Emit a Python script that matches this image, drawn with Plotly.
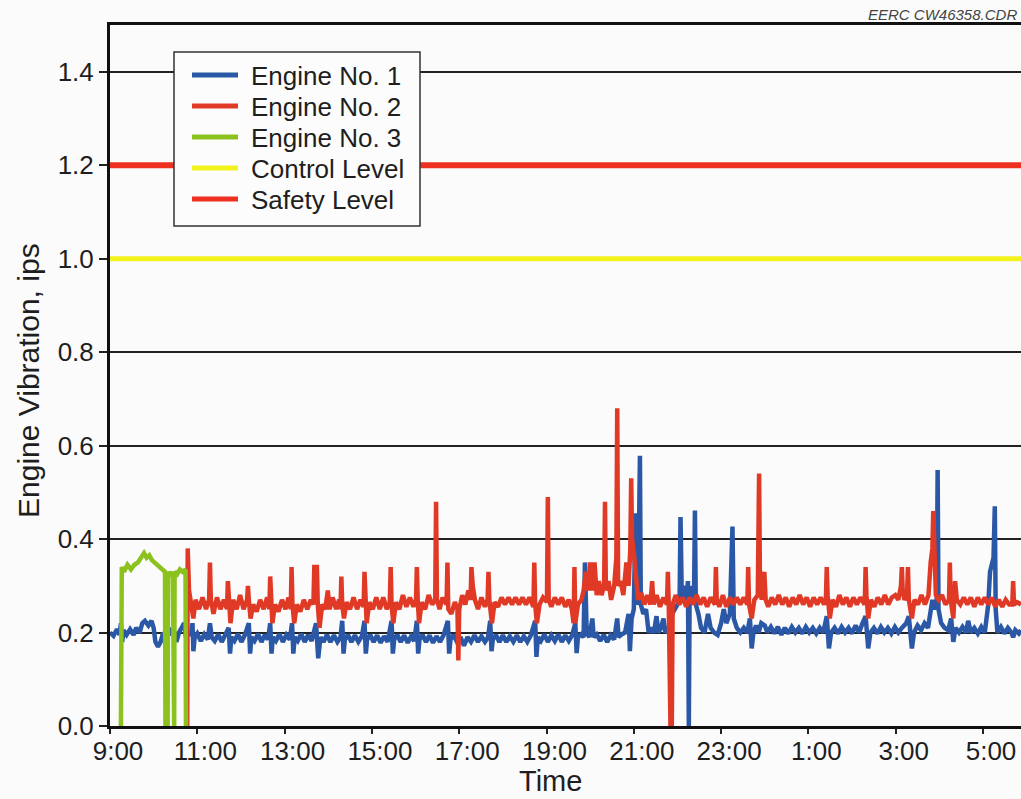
import plotly.graph_objects as go

# ---------------- data (time in hours after 9:00) ----------------
tick_hours = [0, 2, 4, 6, 8, 10, 12, 14, 16, 18, 20]
tick_labels = ["9:00", "11:00", "13:00", "15:00", "17:00", "19:00", "21:00",
               "23:00", "1:00", "3:00", "5:00"]
y_ticks = [0.0, 0.2, 0.4, 0.6, 0.8, 1.0, 1.2, 1.4]
y_tick_labels = ["0.0", "0.2", "0.4", "0.6", "0.8", "1.0", "1.2", "1.4"]

x_end = 20.87
control_level = 1.0
safety_level = 1.2

engine3_points = [
    (0.25, 0.00), (0.27, 0.34), (0.32, 0.33), (0.40, 0.345), (0.48, 0.335), (0.56, 0.345),
    (0.64, 0.35), (0.72, 0.36), (0.78, 0.37), (0.84, 0.36), (0.90, 0.365), (0.96, 0.355),
    (1.02, 0.35), (1.08, 0.345), (1.14, 0.34), (1.20, 0.335), (1.26, 0.33), (1.27, 0.00),
    (1.32, 0.00), (1.33, 0.33), (1.38, 0.32), (1.44, 0.33), (1.45, 0.00), (1.47, 0.00),
    (1.48, 0.33), (1.54, 0.325), (1.60, 0.335), (1.66, 0.33), (1.73, 0.335), (1.74, 0.00),
]

engine2_points = [
    (1.77, 0.00), (1.78, 0.38), (1.81, 0.29), (1.86, 0.25), (1.91, 0.23), (1.96, 0.27),
    (2.04, 0.25), (2.12, 0.275), (2.20, 0.25), (2.27, 0.27), (2.29, 0.35), (2.31, 0.27), (2.37, 0.24),
    (2.45, 0.275), (2.53, 0.25), (2.61, 0.27), (2.68, 0.25), (2.70, 0.31), (2.72, 0.26), (2.76, 0.22),
    (2.82, 0.27), (2.90, 0.25), (2.98, 0.28), (3.06, 0.25), (3.14, 0.27), (3.16, 0.30), (3.18, 0.27),
    (3.22, 0.23), (3.28, 0.26), (3.36, 0.245), (3.44, 0.27), (3.52, 0.25), (3.60, 0.275), (3.65, 0.25),
    (3.67, 0.32), (3.69, 0.26), (3.72, 0.22), (3.78, 0.26), (3.86, 0.245), (3.94, 0.27), (4.02, 0.25),
    (4.09, 0.275), (4.14, 0.25), (4.16, 0.34), (4.18, 0.26), (4.22, 0.22), (4.28, 0.26), (4.36, 0.245),
    (4.44, 0.27), (4.52, 0.25), (4.60, 0.27), (4.66, 0.26), (4.68, 0.34), (4.74, 0.34), (4.76, 0.26),
    (4.80, 0.21), (4.86, 0.26), (4.93, 0.25), (4.99, 0.29), (5.03, 0.25), (5.10, 0.275), (5.18, 0.25),
    (5.25, 0.27), (5.28, 0.25), (5.30, 0.32), (5.32, 0.26), (5.36, 0.23), (5.42, 0.265), (5.50, 0.25),
    (5.58, 0.275), (5.66, 0.25), (5.74, 0.27), (5.81, 0.255), (5.83, 0.33), (5.85, 0.26), (5.88, 0.22),
    (5.94, 0.265), (6.02, 0.25), (6.10, 0.275), (6.18, 0.25), (6.26, 0.275), (6.34, 0.25), (6.41, 0.265),
    (6.43, 0.34), (6.45, 0.26), (6.49, 0.22), (6.55, 0.265), (6.63, 0.25), (6.71, 0.28), (6.79, 0.255),
    (6.87, 0.275), (6.95, 0.255), (7.01, 0.27), (7.03, 0.34), (7.05, 0.27), (7.08, 0.22), (7.14, 0.265),
    (7.22, 0.25), (7.30, 0.28), (7.38, 0.26), (7.45, 0.27), (7.47, 0.48), (7.49, 0.27), (7.55, 0.25),
    (7.62, 0.275), (7.71, 0.26), (7.73, 0.35), (7.75, 0.25), (7.82, 0.24), (7.90, 0.265), (7.96, 0.25),
    (7.98, 0.14), (8.00, 0.25), (8.07, 0.28), (8.14, 0.26), (8.21, 0.29), (8.26, 0.27), (8.28, 0.34),
    (8.31, 0.30), (8.36, 0.27), (8.43, 0.25), (8.51, 0.275), (8.59, 0.255), (8.65, 0.27), (8.67, 0.33),
    (8.69, 0.27), (8.75, 0.22), (8.81, 0.265), (8.89, 0.255), (8.97, 0.275), (9.05, 0.26), (9.13, 0.275),
    (9.21, 0.26), (9.29, 0.275), (9.37, 0.26), (9.45, 0.275), (9.53, 0.26), (9.61, 0.275), (9.70, 0.255),
    (9.72, 0.35), (9.74, 0.26), (9.78, 0.22), (9.84, 0.26), (9.92, 0.275), (10.01, 0.265), (10.03, 0.49),
    (10.05, 0.27), (10.11, 0.255), (10.19, 0.275), (10.27, 0.26), (10.35, 0.275), (10.43, 0.255),
    (10.51, 0.27), (10.58, 0.25), (10.62, 0.22), (10.64, 0.34), (10.66, 0.22), (10.72, 0.26),
    (10.80, 0.27), (10.85, 0.29), (10.90, 0.33), (10.95, 0.29), (11.00, 0.35), (11.05, 0.29),
    (11.10, 0.35), (11.15, 0.28), (11.20, 0.31), (11.26, 0.28), (11.32, 0.30), (11.34, 0.48),
    (11.36, 0.29), (11.42, 0.31), (11.48, 0.27), (11.55, 0.30), (11.60, 0.36), (11.62, 0.68),
    (11.64, 0.30), (11.70, 0.31), (11.76, 0.28), (11.83, 0.35), (11.88, 0.30), (11.92, 0.38),
    (11.94, 0.53), (11.96, 0.40), (12.00, 0.37), (12.05, 0.31), (12.10, 0.27), (12.17, 0.285),
    (12.24, 0.26), (12.31, 0.28), (12.38, 0.26), (12.42, 0.31), (12.45, 0.26), (12.52, 0.28),
    (12.60, 0.255), (12.68, 0.275), (12.76, 0.26), (12.78, 0.33), (12.80, 0.26), (12.84, 0.00),
    (12.87, 0.00), (12.89, 0.26), (12.96, 0.28), (13.04, 0.26), (13.12, 0.275), (13.20, 0.255),
    (13.28, 0.275), (13.36, 0.26), (13.44, 0.28), (13.52, 0.26), (13.60, 0.275), (13.68, 0.255),
    (13.76, 0.275), (13.86, 0.26), (13.88, 0.34), (13.90, 0.27), (13.96, 0.255), (14.04, 0.28),
    (14.12, 0.255), (14.20, 0.275), (14.28, 0.26), (14.36, 0.275), (14.44, 0.26), (14.52, 0.275),
    (14.60, 0.26), (14.62, 0.34), (14.64, 0.26), (14.70, 0.23), (14.76, 0.27), (14.84, 0.28),
    (14.87, 0.54), (14.89, 0.30), (14.93, 0.27), (14.99, 0.33), (15.02, 0.27), (15.08, 0.255),
    (15.16, 0.275), (15.24, 0.26), (15.32, 0.28), (15.40, 0.26), (15.48, 0.275), (15.56, 0.255),
    (15.64, 0.275), (15.72, 0.26), (15.80, 0.28), (15.88, 0.26), (15.96, 0.275), (16.04, 0.255),
    (16.12, 0.275), (16.20, 0.26), (16.28, 0.275), (16.36, 0.26), (16.40, 0.27), (16.42, 0.34),
    (16.44, 0.28), (16.49, 0.23), (16.55, 0.27), (16.63, 0.255), (16.71, 0.28), (16.79, 0.26),
    (16.87, 0.275), (16.95, 0.255), (17.03, 0.275), (17.11, 0.26), (17.19, 0.275), (17.29, 0.26),
    (17.31, 0.34), (17.33, 0.28), (17.37, 0.23), (17.43, 0.27), (17.51, 0.255), (17.59, 0.275),
    (17.67, 0.26), (17.75, 0.28), (17.83, 0.26), (17.91, 0.275), (17.99, 0.28), (18.06, 0.27),
    (18.12, 0.30), (18.14, 0.34), (18.16, 0.29), (18.20, 0.27), (18.26, 0.28), (18.28, 0.34),
    (18.30, 0.27), (18.37, 0.23), (18.43, 0.27), (18.51, 0.26), (18.59, 0.28), (18.67, 0.26),
    (18.75, 0.28), (18.80, 0.35), (18.84, 0.38), (18.86, 0.46), (18.88, 0.37), (18.92, 0.28),
    (18.98, 0.27), (19.06, 0.28), (19.14, 0.26), (19.22, 0.27), (19.24, 0.35), (19.26, 0.27),
    (19.32, 0.23), (19.36, 0.31), (19.40, 0.27), (19.48, 0.26), (19.56, 0.275), (19.64, 0.26),
    (19.72, 0.275), (19.80, 0.255), (19.88, 0.275), (19.96, 0.26), (20.04, 0.275), (20.12, 0.26),
    (20.20, 0.275), (20.28, 0.255), (20.36, 0.27), (20.44, 0.255), (20.52, 0.27), (20.60, 0.26),
    (20.67, 0.26), (20.69, 0.31), (20.71, 0.26), (20.78, 0.265), (20.87, 0.26),
]

engine1_points = [
    (0.00, 0.20), (0.08, 0.193), (0.16, 0.207), (0.22, 0.195), (0.25, 0.22), (0.28, 0.18), (0.31, 0.205),
    (0.38, 0.195), (0.46, 0.207), (0.54, 0.195), (0.60, 0.21), (0.68, 0.20), (0.74, 0.22), (0.80, 0.225),
    (0.88, 0.215), (0.95, 0.225), (1.00, 0.21), (1.04, 0.18), (1.10, 0.17), (1.16, 0.18), (1.22, 0.20),
    (1.28, 0.19), (1.34, 0.21), (1.40, 0.195), (1.46, 0.205), (1.52, 0.18), (1.58, 0.20), (1.64, 0.21),
    (1.70, 0.22), (1.74, 0.19), (1.80, 0.20), (1.86, 0.195), (1.89, 0.22), (1.91, 0.16), (1.94, 0.19),
    (2.00, 0.198), (2.08, 0.182), (2.16, 0.196), (2.24, 0.185), (2.29, 0.22), (2.33, 0.19), (2.40, 0.182),
    (2.48, 0.196), (2.56, 0.18), (2.64, 0.195), (2.72, 0.21), (2.75, 0.155), (2.78, 0.19), (2.85, 0.182),
    (2.93, 0.197), (3.01, 0.18), (3.09, 0.195), (3.18, 0.22), (3.21, 0.155), (3.24, 0.19), (3.31, 0.182),
    (3.39, 0.197), (3.47, 0.18), (3.55, 0.195), (3.62, 0.185), (3.67, 0.22), (3.70, 0.155), (3.73, 0.19),
    (3.80, 0.182), (3.88, 0.197), (3.96, 0.18), (4.04, 0.195), (4.12, 0.185), (4.17, 0.22), (4.20, 0.155),
    (4.23, 0.19), (4.30, 0.182), (4.38, 0.197), (4.46, 0.18), (4.54, 0.195), (4.62, 0.182), (4.72, 0.22),
    (4.77, 0.145), (4.82, 0.19), (4.89, 0.18), (4.97, 0.195), (5.05, 0.18), (5.13, 0.194), (5.21, 0.18),
    (5.28, 0.19), (5.32, 0.225), (5.35, 0.155), (5.38, 0.185), (5.45, 0.195), (5.53, 0.18), (5.61, 0.194),
    (5.69, 0.18), (5.77, 0.192), (5.83, 0.225), (5.86, 0.155), (5.89, 0.185), (5.96, 0.195), (6.04, 0.18),
    (6.12, 0.194), (6.20, 0.178), (6.28, 0.192), (6.36, 0.18), (6.45, 0.225), (6.48, 0.155), (6.51, 0.185),
    (6.58, 0.195), (6.66, 0.18), (6.74, 0.194), (6.82, 0.178), (6.90, 0.192), (6.97, 0.182), (7.03, 0.225),
    (7.06, 0.155), (7.09, 0.185), (7.16, 0.195), (7.24, 0.18), (7.32, 0.194), (7.40, 0.178), (7.48, 0.192),
    (7.56, 0.18), (7.64, 0.194), (7.74, 0.225), (7.77, 0.155), (7.80, 0.185), (7.87, 0.195), (7.95, 0.18),
    (8.03, 0.19), (8.11, 0.172), (8.19, 0.19), (8.27, 0.18), (8.35, 0.194), (8.43, 0.18), (8.51, 0.192),
    (8.59, 0.18), (8.66, 0.19), (8.71, 0.225), (8.74, 0.16), (8.77, 0.185), (8.84, 0.195), (8.92, 0.18),
    (9.00, 0.194), (9.08, 0.18), (9.16, 0.192), (9.24, 0.18), (9.32, 0.194), (9.40, 0.18), (9.48, 0.192),
    (9.56, 0.18), (9.64, 0.194), (9.74, 0.225), (9.77, 0.148), (9.80, 0.19), (9.87, 0.182), (9.95, 0.196),
    (10.03, 0.18), (10.11, 0.194), (10.19, 0.182), (10.27, 0.196), (10.35, 0.18), (10.43, 0.194),
    (10.51, 0.182), (10.59, 0.195), (10.66, 0.22), (10.69, 0.156), (10.72, 0.19), (10.79, 0.196),
    (10.85, 0.19), (10.88, 0.35), (10.92, 0.20), (10.98, 0.19), (11.05, 0.23), (11.08, 0.19),
    (11.15, 0.196), (11.23, 0.182), (11.31, 0.195), (11.39, 0.18), (11.47, 0.194), (11.55, 0.185),
    (11.62, 0.23), (11.65, 0.19), (11.72, 0.196), (11.80, 0.20), (11.88, 0.24), (11.91, 0.16),
    (11.95, 0.23), (12.00, 0.25), (12.04, 0.455), (12.06, 0.26), (12.10, 0.27), (12.14, 0.578),
    (12.16, 0.26), (12.22, 0.24), (12.28, 0.25), (12.34, 0.20), (12.40, 0.21), (12.46, 0.20),
    (12.52, 0.235), (12.56, 0.20), (12.62, 0.21), (12.68, 0.23), (12.72, 0.20), (12.80, 0.21),
    (12.88, 0.24), (12.94, 0.25), (13.00, 0.26), (13.05, 0.28), (13.07, 0.447), (13.10, 0.27),
    (13.15, 0.30), (13.20, 0.26), (13.24, 0.31), (13.26, 0.00), (13.28, 0.30), (13.34, 0.27),
    (13.38, 0.28), (13.40, 0.461), (13.42, 0.26), (13.48, 0.24), (13.54, 0.21), (13.62, 0.20),
    (13.70, 0.24), (13.76, 0.21), (13.84, 0.20), (13.92, 0.195), (14.00, 0.22), (14.06, 0.25),
    (14.12, 0.22), (14.20, 0.24), (14.26, 0.427), (14.29, 0.23), (14.36, 0.21), (14.44, 0.20),
    (14.52, 0.21), (14.60, 0.20), (14.66, 0.23), (14.70, 0.166), (14.74, 0.20), (14.80, 0.215),
    (14.86, 0.20), (14.92, 0.22), (15.00, 0.215), (15.06, 0.20), (15.14, 0.212), (15.22, 0.198),
    (15.30, 0.212), (15.38, 0.195), (15.46, 0.21), (15.54, 0.198), (15.62, 0.212), (15.70, 0.20),
    (15.78, 0.21), (15.86, 0.198), (15.94, 0.212), (16.02, 0.20), (16.10, 0.21), (16.18, 0.198),
    (16.26, 0.21), (16.34, 0.20), (16.42, 0.235), (16.47, 0.166), (16.52, 0.20), (16.60, 0.21),
    (16.68, 0.198), (16.76, 0.212), (16.84, 0.20), (16.92, 0.21), (17.00, 0.198), (17.08, 0.215),
    (17.16, 0.20), (17.24, 0.22), (17.31, 0.235), (17.37, 0.166), (17.42, 0.20), (17.50, 0.21),
    (17.58, 0.198), (17.66, 0.212), (17.74, 0.20), (17.82, 0.21), (17.90, 0.198), (17.98, 0.212),
    (18.06, 0.20), (18.14, 0.21), (18.24, 0.22), (18.30, 0.235), (18.37, 0.166), (18.42, 0.20),
    (18.50, 0.215), (18.58, 0.205), (18.66, 0.22), (18.74, 0.21), (18.80, 0.24), (18.84, 0.27),
    (18.90, 0.25), (18.94, 0.26), (18.96, 0.548), (18.98, 0.25), (19.04, 0.22), (19.12, 0.21),
    (19.20, 0.205), (19.27, 0.23), (19.32, 0.18), (19.37, 0.21), (19.45, 0.20), (19.53, 0.212),
    (19.61, 0.20), (19.66, 0.225), (19.72, 0.20), (19.80, 0.21), (19.88, 0.198), (19.96, 0.212),
    (20.04, 0.20), (20.12, 0.26), (20.16, 0.33), (20.20, 0.35), (20.24, 0.36), (20.27, 0.47),
    (20.29, 0.25), (20.33, 0.20), (20.41, 0.212), (20.49, 0.198), (20.57, 0.21), (20.65, 0.20),
    (20.69, 0.19), (20.74, 0.205), (20.82, 0.198), (20.87, 0.205),
]

series_names = ["Engine No. 1", "Engine No. 2", "Engine No. 3", "Control Level", "Safety Level"]
series_colors = ["#2b58a6", "#e03a26", "#8cc21e", "#f2f21c", "#ee3020"]

# ---------------- figure ----------------
W, H = 1021, 799
ML, MR, MT, MB = 110, 0, 25, 73
PW, PH = W - ML - MR, H - MT - MB


def px_x(p):
    return (p - ML) / PW


def px_y(p):
    return (H - MB - p) / PH


FONT = "Liberation Sans, Arial, sans-serif"
TXT = "#1e1e1e"

fig = go.Figure()


def split(points):
    return [p[0] for p in points], [p[1] for p in points]


t1, v1 = split(engine1_points)
t2, v2 = split(engine2_points)
t3, v3 = split(engine3_points)

fig.add_trace(go.Scatter(x=t1, y=v1, mode="lines", name=series_names[0],
                         line=dict(color=series_colors[0], width=4.5)))
fig.add_trace(go.Scatter(x=t2, y=v2, mode="lines", name=series_names[1],
                         line=dict(color=series_colors[1], width=4.5)))
fig.add_trace(go.Scatter(x=t3, y=v3, mode="lines", name=series_names[2],
                         line=dict(color=series_colors[2], width=4.5)))
fig.add_trace(go.Scatter(x=[0, x_end], y=[control_level, control_level], mode="lines",
                         name=series_names[3], line=dict(color=series_colors[3], width=5)))
fig.add_trace(go.Scatter(x=[0, x_end], y=[safety_level, safety_level], mode="lines",
                         name=series_names[4], line=dict(color=series_colors[4], width=6)))

# manual legend (box, samples, text)
box = dict(x0=px_x(174), x1=px_x(420), y0=px_y(226), y1=px_y(52))
shapes = [dict(type="rect", xref="paper", yref="paper", layer="above",
               fillcolor="#fcfcfc", line=dict(color="#333333", width=1.5), **box)]
annotations = []
row_px = [75, 106, 137, 168, 199]
for name, color, ry in zip(series_names, series_colors, row_px):
    shapes.append(dict(type="line", xref="paper", yref="paper", layer="above",
                       x0=px_x(192), x1=px_x(238), y0=px_y(ry), y1=px_y(ry),
                       line=dict(color=color, width=5)))
    annotations.append(dict(xref="paper", yref="paper", x=px_x(249), y=px_y(ry + 1),
                            xanchor="left", yanchor="middle", showarrow=False,
                            text=name, font=dict(family=FONT, size=26, color=TXT)))

annotations.append(dict(xref="paper", yref="paper", x=px_x(550), y=px_y(799),
                        xanchor="center", yanchor="bottom", showarrow=False,
                        text="Time", font=dict(family=FONT, size=29, color=TXT)))
annotations.append(dict(xref="paper", yref="paper", x=px_x(28), y=px_y(381),
                        xanchor="center", yanchor="middle", showarrow=False, textangle=-90,
                        text="Engine Vibration, ips", font=dict(family=FONT, size=30, color=TXT)))
annotations.append(dict(xref="paper", yref="paper", x=1, y=1, xanchor="right", yanchor="bottom",
                        xshift=-2, yshift=0, showarrow=False,
                        text="<i>EERC CW46358.CDR</i>", font=dict(family=FONT, size=15, color="#444444")))

fig.update_layout(
    width=W, height=H,
    margin=dict(l=ML, r=MR, t=MT, b=MB, pad=0),
    paper_bgcolor="#fbfbfb", plot_bgcolor="#fbfbfb",
    showlegend=False,
    shapes=shapes, annotations=annotations,
    font=dict(family=FONT, color=TXT),
    xaxis=dict(range=[0, x_end], tickvals=tick_hours, ticktext=tick_labels,
               ticks="outside", ticklen=5, tickwidth=1.5, tickcolor="#222",
               showline=True, linecolor="#111", linewidth=3, mirror=True,
               showgrid=False, zeroline=False, ticklabelshift=8, ticklabelstandoff=-5,
               tickfont=dict(family=FONT, size=26, color=TXT)),
    yaxis=dict(range=[0, 1.5], tickvals=y_ticks, ticktext=y_tick_labels,
               ticks="outside", ticklen=8, tickwidth=1.5, tickcolor="#222",
               showline=True, linecolor="#111", linewidth=3,
               showgrid=True, gridcolor="#222", gridwidth=1.5, zeroline=False,
               tickfont=dict(family=FONT, size=26, color=TXT)),
)

fig.write_html("out.html")
